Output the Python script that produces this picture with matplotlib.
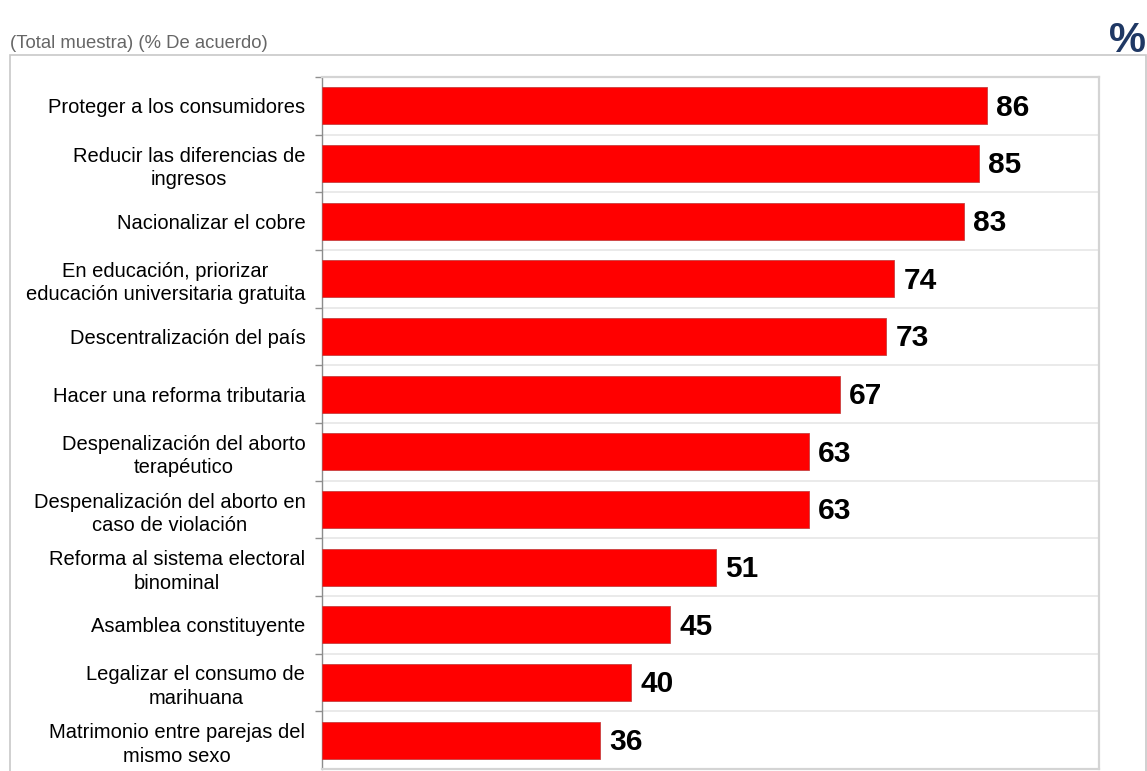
import matplotlib
matplotlib.use("Agg")
import matplotlib.pyplot as plt
from matplotlib.patches import Rectangle

plt.rcParams['font.family'] = ['Liberation Sans', 'DejaVu Sans']

categories = [
    "Proteger a los consumidores",
    "Reducir las diferencias de\ningresos",
    "Nacionalizar el cobre",
    "En educación, priorizar\neducación universitaria gratuita",
    "Descentralización del país",
    "Hacer una reforma tributaria",
    "Despenalización del aborto\nterapéutico",
    "Despenalización del aborto en\ncaso de violación",
    "Reforma al sistema electoral\nbinominal",
    "Asamblea constituyente",
    "Legalizar el consumo de\nmarihuana",
    "Matrimonio entre parejas del\nmismo sexo",
]
values = [86, 85, 83, 74, 73, 67, 63, 63, 51, 45, 40, 36]

W, H = 1147, 771
fig = plt.figure(figsize=(W / 100, H / 100), dpi=100)

# outer frame
fig.patches.append(Rectangle((10 / W, -0.02), (1146 - 10) / W, 1 - 55 / H + 0.02,
                             transform=fig.transFigure, fill=False,
                             edgecolor='#c8c8c8', lw=1.2))

ax = fig.add_axes([322 / W, 1 - 769 / H, (1099 - 322) / W, (769 - 77) / H])

pos = list(range(len(categories)))
ax.barh(pos, values, height=0.64, color='#ff0000', edgecolor='#c84040', lw=0.6, zorder=3)
for p, v in zip(pos, values):
    ax.text(v + 1.2, p + 0.03, str(v), va='center', ha='left', fontsize=21.5,
            fontweight='bold', color='black')

ax.set_xlim(0, 100.5)
ax.set_ylim(len(categories) - 0.5, -0.5)
ax.set_xticks([])
ax.set_yticks(pos)
ax.set_yticklabels(categories, fontsize=14.5, linespacing=1.3, multialignment='center')
ax.tick_params(axis='y', which='major', length=0, pad=12)
ax.set_yticks([p + 0.5 for p in pos[:-1]] + [-0.5], minor=True)
ax.tick_params(axis='y', which='minor', length=5, color='#909090', width=1)
ax.grid(axis='y', which='minor', color='#e6e6e6', lw=1.2, zorder=0)

for s in ['top', 'right', 'bottom']:
    ax.spines[s].set_color('#d4d4d4')
    ax.spines[s].set_linewidth(1.6)
ax.spines['left'].set_color('#8c8c8c')
ax.spines['left'].set_linewidth(1.0)

fig.text(10 / W, 1 - 43 / H, "(Total muestra) (% De acuerdo)", fontsize=13.3,
         color='#666666', ha='left', va='center')
fig.text(1146 / W, 1 - 52 / H, "%", fontsize=30, fontweight='bold',
         color='#1f3864', ha='right', va='baseline')

fig.savefig("out.png", dpi=100)
